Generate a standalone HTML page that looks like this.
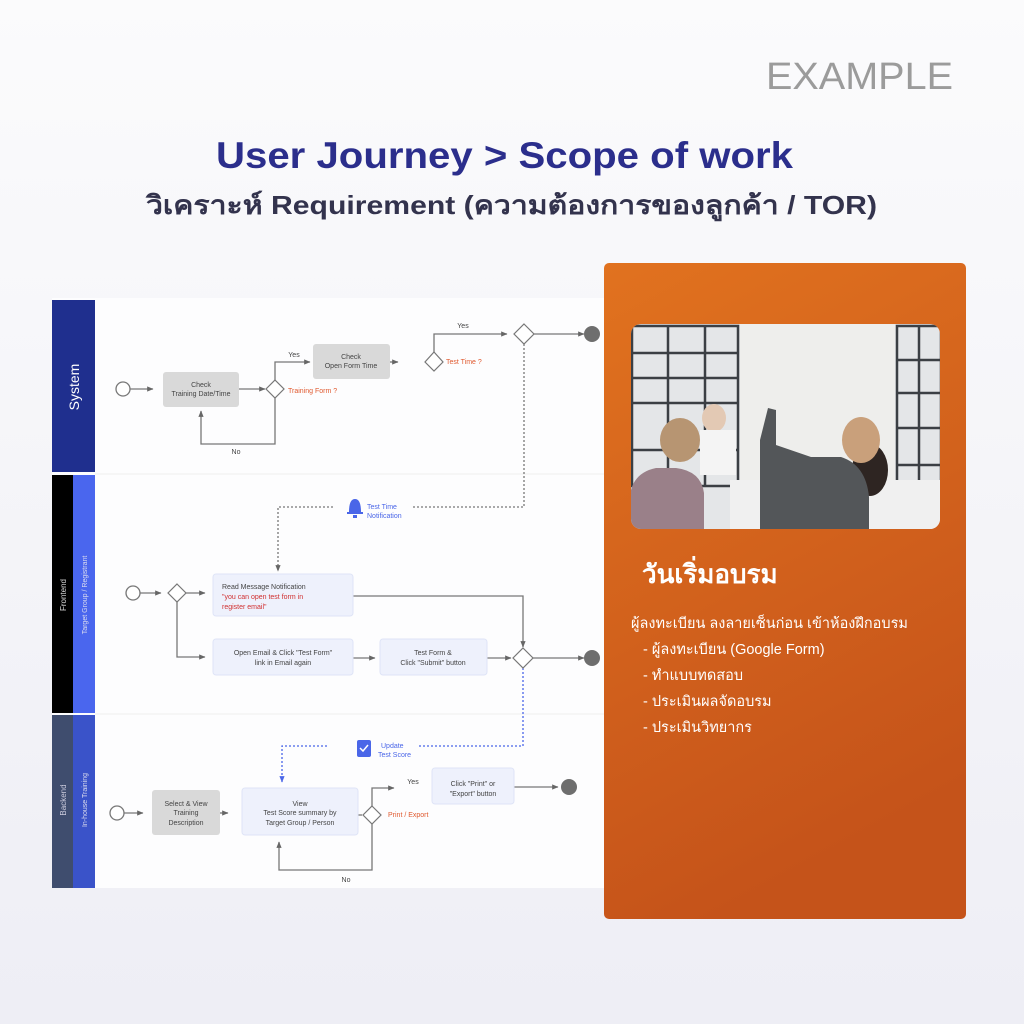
<!DOCTYPE html>
<html><head><meta charset="utf-8"><style>
html,body{margin:0;padding:0;width:1024px;height:1024px;overflow:hidden;background:#f6f6fa;font-family:"Liberation Sans",sans-serif}
</style></head><body>
<svg width="1024" height="1024" style="position:absolute;left:0;top:0" font-family="Liberation Sans, sans-serif">
<defs>
<linearGradient id="bg" x1="0" y1="0" x2="0" y2="1"><stop offset="0" stop-color="#fbfbfc"/><stop offset="1" stop-color="#eeeef5"/></linearGradient>
<linearGradient id="og" x1="0" y1="0" x2="0.3" y2="1"><stop offset="0" stop-color="#e1721f"/><stop offset="1" stop-color="#c5531a"/></linearGradient>
<marker id="a" viewBox="0 0 10 10" refX="9" refY="5" markerWidth="5" markerHeight="5" orient="auto"><path d="M0,1 L10,5 L0,9z" fill="#666"/></marker>
<marker id="ab" viewBox="0 0 10 10" refX="9" refY="5" markerWidth="5" markerHeight="5" orient="auto"><path d="M0,1 L10,5 L0,9z" fill="#4a66e8"/></marker>
</defs>
<rect width="1024" height="1024" fill="url(#bg)"/>
<text x="766" y="89" textLength="187" lengthAdjust="spacingAndGlyphs" font-size="38" fill="#9b9b9b">EXAMPLE</text>
<text x="216" y="168" textLength="577" lengthAdjust="spacingAndGlyphs" font-size="37" font-weight="bold" fill="#2b2e8c">User Journey &gt; Scope of work</text>
<text x="146" y="214" textLength="731" lengthAdjust="spacingAndGlyphs" font-size="26" font-weight="bold" fill="#33334d">วิเคราะห์ Requirement (ความต้องการของลูกค้า / TOR)</text>

<rect x="52" y="298" width="556" height="590" fill="#fdfdfe"/>
<line x1="95" y1="474" x2="608" y2="474" stroke="#eee"/>
<line x1="95" y1="714" x2="608" y2="714" stroke="#eee"/>
<rect x="52" y="300" width="43" height="172" fill="#1f2f8e"/>
<rect x="52" y="475" width="21" height="238" fill="#000"/>
<rect x="73" y="475" width="22" height="238" fill="#4a66ee"/>
<rect x="52" y="715" width="21" height="173" fill="#3f4d6e"/>
<rect x="73" y="715" width="22" height="173" fill="#3a53c9"/>
<text transform="translate(79,387) rotate(-90)" text-anchor="middle" font-size="14" fill="#fff">System</text>
<text transform="translate(66,595) rotate(-90)" text-anchor="middle" font-size="8" fill="#ddd">Frontend</text>
<text transform="translate(87,595) rotate(-90)" text-anchor="middle" font-size="7" fill="#dde">Target Group / Registrant</text>
<text transform="translate(66,800) rotate(-90)" text-anchor="middle" font-size="8" fill="#ccd">Backend</text>
<text transform="translate(87,800) rotate(-90)" text-anchor="middle" font-size="7" fill="#dde">In-house Training</text>

<g stroke="#777" stroke-width="1.3" fill="none">
<circle cx="123" cy="389" r="7" fill="#fff"/>
<line x1="130" y1="389" x2="153" y2="389" marker-end="url(#a)"/>
<line x1="239" y1="389" x2="265" y2="389" marker-end="url(#a)"/>
<path d="M275,398 V444 H201 V411" marker-end="url(#a)"/>
<path d="M275,380 V362 H310" marker-end="url(#a)"/>
<line x1="390" y1="362" x2="398" y2="362" marker-end="url(#a)"/>
<path d="M434,352 V334 H507" marker-end="url(#a)"/>
<line x1="534" y1="334" x2="584" y2="334" marker-end="url(#a)"/>
<path d="M524,344 V507 H412" stroke-dasharray="2,2"/>
<path d="M333,507 H278 V571" stroke-dasharray="2,2" marker-end="url(#a)"/>
<circle cx="133" cy="593" r="7" fill="#fff"/>
<line x1="140" y1="593" x2="161" y2="593" marker-end="url(#a)"/>
<line x1="186" y1="593" x2="205" y2="593" marker-end="url(#a)"/>
<path d="M177,602 V657 H205" marker-end="url(#a)"/>
<path d="M353,596 H523 V647" marker-end="url(#a)"/>
<line x1="353" y1="658" x2="375" y2="658" marker-end="url(#a)"/>
<line x1="487" y1="658" x2="511" y2="658" marker-end="url(#a)"/>
<line x1="533" y1="658" x2="584" y2="658" marker-end="url(#a)"/>
<circle cx="117" cy="813" r="7" fill="#fff"/>
<line x1="124" y1="813" x2="143" y2="813" marker-end="url(#a)"/>
<line x1="220" y1="813" x2="228" y2="813" marker-end="url(#a)"/>
<line x1="358" y1="815" x2="362" y2="815"/>
<path d="M372,807 V788 H394" marker-end="url(#a)"/>
<path d="M372,824 V870 H279 V842" marker-end="url(#a)"/>
<line x1="514" y1="787" x2="558" y2="787" marker-end="url(#a)"/>
</g>
<g stroke="#4a66e8" stroke-width="1.3" fill="none" stroke-dasharray="2,2">
<path d="M523,668 V746 H418"/>
<path d="M327,746 H282 V782" marker-end="url(#ab)"/>
</g>
<g fill="#fff" stroke="#777" stroke-width="1.2">
<path d="M275,380 L284,389 L275,398 L266,389z"/>
<path d="M434,352 L443,362 L434,371 L425,362z"/>
<path d="M524,324 L534,334 L524,344 L514,334z"/>
<path d="M177,584 L186,593 L177,602 L168,593z"/>
<path d="M523,648 L533,658 L523,668 L513,658z"/>
<path d="M372,806 L381,815 L372,824 L363,815z"/>
</g>
<g fill="#6e6e6e"><circle cx="592" cy="334" r="8"/><circle cx="592" cy="658" r="8"/><circle cx="569" cy="787" r="8"/></g>
<g font-size="7" text-anchor="middle" fill="#444">
<rect x="163" y="372" width="76" height="35" rx="3" fill="#d9d9d9"/>
<text x="201" y="387">Check</text><text x="201" y="396">Training Date/Time</text>
<rect x="313" y="344" width="77" height="35" rx="3" fill="#d9d9d9"/>
<text x="351" y="359">Check</text><text x="351" y="368">Open Form Time</text>
<rect x="213" y="574" width="140" height="42" rx="3" fill="#eef1fc" stroke="#dfe4f7"/>
<text x="222" y="589" text-anchor="start">Read Message Notification</text>
<text x="222" y="599" text-anchor="start" fill="#d03030">"you can open test form in</text>
<text x="222" y="609" text-anchor="start" fill="#d03030">register email"</text>
<rect x="213" y="639" width="140" height="36" rx="3" fill="#eef1fc" stroke="#dfe4f7"/>
<text x="283" y="655">Open Email &amp; Click "Test Form"</text><text x="283" y="665">link in Email again</text>
<rect x="380" y="639" width="107" height="36" rx="3" fill="#eef1fc" stroke="#dfe4f7"/>
<text x="433" y="655">Test Form &amp;</text><text x="433" y="665">Click "Submit" button</text>
<rect x="152" y="790" width="68" height="45" rx="3" fill="#d9d9d9"/>
<text x="186" y="806">Select &amp; View</text><text x="186" y="815">Training</text><text x="186" y="825">Description</text>
<rect x="242" y="788" width="116" height="47" rx="3" fill="#eef1fc" stroke="#dfe4f7"/>
<text x="300" y="806">View</text><text x="300" y="815">Test Score summary by</text><text x="300" y="825">Target Group / Person</text>
<rect x="432" y="768" width="82" height="36" rx="3" fill="#eef1fc" stroke="#dfe4f7"/>
<text x="473" y="786">Click "Print" or</text><text x="473" y="796">"Export" button</text>
<text x="294" y="357">Yes</text><text x="236" y="454">No</text><text x="463" y="328">Yes</text>
<text x="413" y="784">Yes</text><text x="346" y="882">No</text>
</g>
<g font-size="7" fill="#e05a30">
<text x="288" y="393">Training Form ?</text><text x="446" y="364">Test Time ?</text><text x="388" y="817">Print / Export</text>
</g>
<g font-size="7" fill="#4a66e8">
<path d="M349,512 q0,-13 6,-13 q6,0 6,13 h2 v2 h-16 v-2z M353,515 h4 v3 h-4z"/>
<text x="367" y="509">Test Time</text><text x="367" y="518">Notification</text>
<rect x="357" y="740" width="14" height="17" rx="2"/><path d="M360,748 l3,3 l5,-6" stroke="#fff" stroke-width="1.5" fill="none"/>
<text x="381" y="748">Update</text><text x="378" y="757">Test Score</text>
</g>

<rect x="604" y="263" width="362" height="656" rx="5" fill="url(#og)"/>
<clipPath id="ph"><rect x="631" y="324" width="309" height="205" rx="10"/></clipPath>
<g clip-path="url(#ph)">
<rect x="631" y="324" width="309" height="205" fill="#e4e6e8"/>
<rect x="740" y="324" width="155" height="205" fill="#eeeeec"/>
<g stroke="#3b3f44" stroke-width="2.5" fill="none">
<rect x="632" y="326" width="106" height="160"/><line x1="668" y1="326" x2="668" y2="486"/><line x1="705" y1="326" x2="705" y2="486"/>
<line x1="632" y1="353" x2="738" y2="353"/><line x1="632" y1="378" x2="738" y2="378"/><line x1="632" y1="403" x2="738" y2="403"/><line x1="632" y1="450" x2="738" y2="450"/>
<rect x="897" y="326" width="44" height="180"/><line x1="919" y1="326" x2="919" y2="506"/>
<line x1="897" y1="360" x2="941" y2="360"/><line x1="897" y1="393" x2="941" y2="393"/><line x1="897" y1="428" x2="941" y2="428"/><line x1="897" y1="465" x2="941" y2="465"/>
</g>
<rect x="730" y="480" width="210" height="50" fill="#f0f0f0"/>
<ellipse cx="714" cy="418" rx="12" ry="14" fill="#e3c9b4"/><rect x="700" y="430" width="36" height="45" fill="#f4f4f4"/>
<path d="M631,529 V490 q5,-18 25,-22 h20 q25,3 28,25 V529z" fill="#9a8089"/>
<ellipse cx="680" cy="440" rx="20" ry="22" fill="#b79572"/>
<ellipse cx="870" cy="470" rx="18" ry="26" fill="#2e2522"/>
<path d="M760,529 V440 l8,-32 l8,2 v35 l35,12 h30 q25,8 28,40 V529z" fill="#535659"/>
<ellipse cx="861" cy="440" rx="19" ry="23" fill="#c9a07b"/>
</g>
<text x="642" y="583" font-size="26" font-weight="bold" fill="#fff">วันเริ่มอบรม</text>
<g font-size="14.5" fill="#fff">
<text x="631" y="628">ผู้ลงทะเบียน ลงลายเซ็นก่อน เข้าห้องฝึกอบรม</text>
<text x="643" y="654">- ผู้ลงทะเบียน (Google Form)</text>
<text x="643" y="680">- ทำแบบทดสอบ</text>
<text x="643" y="706">- ประเมินผลจัดอบรม</text>
<text x="643" y="732">- ประเมินวิทยากร</text>
</g>
</svg>
</body></html>
